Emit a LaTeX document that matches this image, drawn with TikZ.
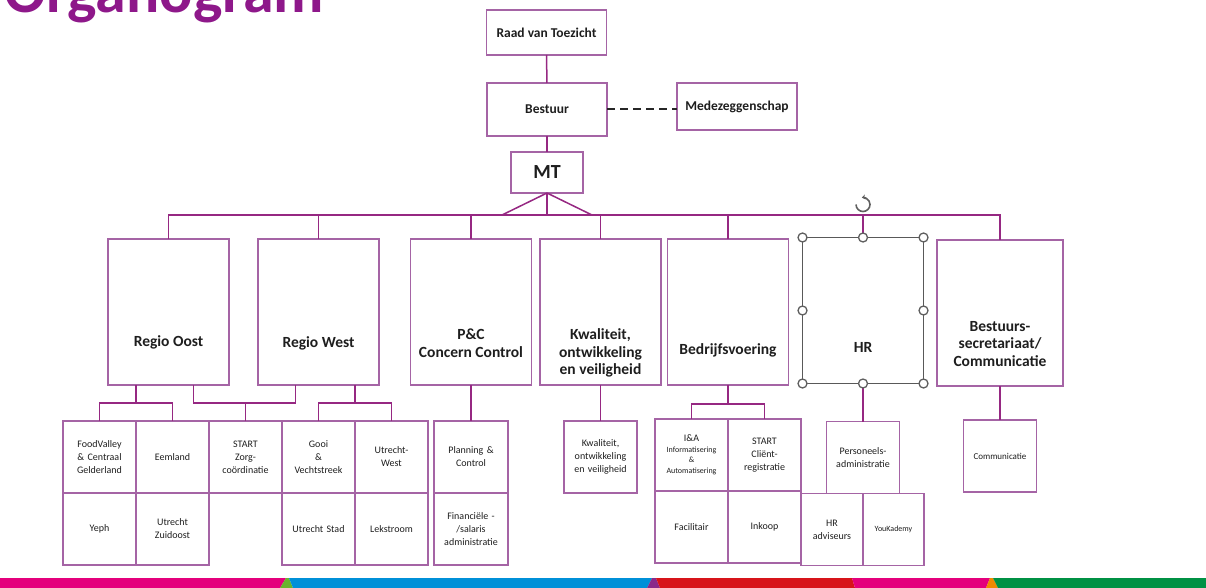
\documentclass[tikz,border=0pt]{standalone}
\usepackage{fontspec}
\setmainfont{Carlito}
\usepackage{xcolor}
\usepackage{tikz}
\usetikzlibrary{positioning, arrows.meta}

\definecolor{orgpurple}{RGB}{142,24,138}
\definecolor{boxpurple}{RGB}{165,100,165}
\definecolor{linepurple}{RGB}{150,40,130}
\definecolor{textgrey}{RGB}{30,30,30}
\definecolor{stripPink}{RGB}{228,0,124}
\definecolor{stripBlue}{RGB}{0,144,216}
\definecolor{stripRed}{RGB}{215,20,26}
\definecolor{stripGreen}{RGB}{0,145,68}
\definecolor{stripLime}{RGB}{106,180,45}
\definecolor{stripViolet}{RGB}{138,42,138}
\definecolor{stripOrange}{RGB}{240,138,0}

\tikzstyle{conn} = [linepurple, line width=1.5pt]
\tikzstyle{handle} = [draw=gray!75!black, fill=white, line width=1.3pt]

\begin{document}
\begin{tikzpicture}[x=1pt, y=-1pt,
    topbox/.style={rectangle, draw=boxpurple, line width=1.2pt, minimum width=120pt, minimum height=47pt, inner sep=2pt, outer sep=0pt, text=textgrey, font=\fontsize{13.5}{15}\selectfont\bfseries},
    unitbox/.style={rectangle, draw=boxpurple, line width=1.2pt, minimum width=121pt, minimum height=146pt, inner sep=0pt, outer sep=0pt},
    lbl/.style={align=center, text=textgrey, font=\fontsize{15.5}{17.5}\selectfont\bfseries},
    subbox/.style={rectangle, draw=boxpurple, line width=1.2pt, minimum width=73pt, minimum height=72pt, text width=68pt, align=center, inner sep=2pt, outer sep=0pt, text=textgrey, font=\fontsize{10}{13}\selectfont},
    dashline/.style={black!85, line width=2pt, dash pattern=on 8pt off 5pt}]

    \useasboundingbox (0,0) rectangle (1206,588);

    % Title (cut off at the top)
    \node[anchor=base west, inner sep=0pt, text=orgpurple, font=\fontsize{62}{62}\selectfont\bfseries] (title) at (4,13) {Organogram};

    % Top of the organisation
    \node[topbox, minimum height=45pt] (raad) at (546.5,32.5) {Raad van Toezicht};
    \node[topbox, minimum height=53pt] (bestuur) at (547,109.5) {Bestuur};
    \node[topbox] (mede) at (737,106.5) {Medezeggenschap};
    \node[topbox, minimum width=72pt, minimum height=41pt, font=\fontsize{20}{22}\selectfont\bfseries] (mt) at (547,172.5) {MT};
    \coordinate (bus) at (0,215);

    % Units
    \node[unitbox, label={[lbl, yshift=-30pt]center:Regio Oost}] (oost) at (168.5,312) {};
    \node[unitbox, label={[lbl, yshift=-31pt]center:Regio West}] (west) at (318.5,312) {};
    \node[unitbox, label={[lbl, yshift=-31pt]center:{P\&C\\Concern Control}}] (pc) at (471,312) {};
    \node[unitbox, label={[lbl, yshift=-41pt]center:{Kwaliteit,\\ontwikkeling\\en veiligheid}}] (kwal) at (600.5,312) {};
    \node[unitbox, label={[lbl, yshift=-38pt]center:Bedrijfsvoering}] (bedr) at (728,312) {};
    \node[unitbox, draw=gray!70!black, line width=1.5pt, label={[lbl, yshift=-37pt]center:HR}] (hr) at (863,310.5) {};
    \node[unitbox, minimum width=126pt, label={[lbl, yshift=-31pt]center:{Bestuurs-\\secretariaat/\\Communicatie}}] (bestcomm) at (1000,313) {};

    % Regio's
    \node[subbox] (foodvalley) at (99.5,457) {FoodValley\\\& Centraal\\Gelderland};
    \node[subbox, right=0pt of foodvalley] (eemland) {Eemland};
    \node[subbox, right=0pt of eemland] (startzorg) {START\\Zorg-\\coördinatie};
    \node[subbox, right=0pt of startzorg] (gooi) {Gooi\\\&\\Vechtstreek};
    \node[subbox, right=0pt of gooi] (utwest) {Utrecht-\\West};
    \node[subbox, below=0pt of foodvalley] (yeph) {Yeph};
    \node[subbox, below=0pt of eemland] (zuidoost) {Utrecht\\Zuidoost};
    \node[subbox, below=0pt of gooi] (utstad) {Utrecht Stad};
    \node[subbox, below=0pt of utwest] (lekstroom) {Lekstroom};

    % Staff departments
    \node[subbox, minimum width=74pt, below=36pt of pc] (planning) {Planning \&\\Control};
    \node[subbox, minimum width=74pt, below=0pt of planning] (financieel) {Financiële -\\/salaris\\administratie};
    \node[subbox, below=36pt of kwal] (kwalsub) {Kwaliteit,\\ontwikkeling\\en veiligheid};
    \node[subbox, below left=34pt and 0pt of bedr.south, font=\fontsize{8}{10.5}\selectfont] (ia) {{\fontsize{10}{13}\selectfont I\&A}\\Informatisering\\\&\\Automatisering};
    \node[subbox, right=0pt of ia] (clientreg) {START\\Cliënt-\\registratie};
    \node[subbox, below=0pt of ia] (facilitair) {Facilitair};
    \node[subbox, below=0pt of clientreg] (inkoop) {Inkoop};
    \node[subbox, below=38pt of hr] (persadmin) {Personeels-\\administratie};
    \node[subbox, minimum width=62pt, text width=58pt, below left=0pt and 0pt of persadmin.south] (hradv) {HR\\adviseurs};
    \node[subbox, minimum width=61pt, text width=57pt, right=0pt of hradv, font=\fontsize{8}{10}\selectfont] (youkademy) {YouKademy};
    \node[subbox, below=34pt of bestcomm, font=\fontsize{9}{11}\selectfont] (comm) {Communicatie};

    % Top connectors
    \draw[conn] (raad) -- (bestuur);
    \draw[conn] (bestuur) -- (mt);
    \draw[dashline] (bestuur.east) -- (bestuur.east -| mede.west);
    \draw[conn] (mt.south) -- (mt.south |- bus);
    \draw[conn] (mt.south) -- ++(-45,22);
    \draw[conn] (mt.south) -- ++(45,22);
    \draw[conn] (oost.north) -- (oost.north |- bus) -- (bestcomm.north |- bus) -- (bestcomm.north);
    \foreach \u in {west, pc, kwal, bedr, hr}
        \draw[conn] (\u.north) -- (\u.north |- bus);

    % Regio connectors
    \draw[conn] (oost.south -| foodvalley.east) -- ++(0,18) coordinate (oostbus);
    \draw[conn] (foodvalley.north) |- (oostbus) -| (eemland.north);
    \draw[conn] (oost.south) ++(25,0) -- ++(0,18) -| (startzorg.north);
    \draw[conn] (west.south) ++(-23,0) -- ++(0,18) -| (startzorg.north);
    \draw[conn] (west.south -| gooi.east) -- ++(0,18) coordinate (westbus);
    \draw[conn] (gooi.north) |- (westbus) -| (utwest.north);

    % Staff connectors
    \draw[conn] (pc) -- (planning);
    \draw[conn] (kwal) -- (kwalsub);
    \draw[conn] (bedr.south) -- ++(0,19) coordinate (bedrbus);
    \draw[conn] (ia.north) |- (bedrbus) -| (clientreg.north);
    \draw[conn] (hr) -- (persadmin);
    \draw[conn] (bestcomm) -- (comm);

    % Selection handles on HR
    \foreach \a in {north west, north, north east, west, east, south west, south, south east}
        \draw[handle] (hr.\a) circle[radius=4.5];
    \draw[gray!75!black, line width=1.6pt, -{Stealth[length=3.5pt, width=5pt]}] ([yshift=33pt]hr.north) ++(-7,0) arc[start angle=180, end angle=-100, radius=7];

    % Colour strip
    \fill[stripPink] (0,578) -- (286,578) -- (280,588) -- (0,588) -- cycle;
    \fill[stripLime] (280,588) -- (286,578) -- (289,578) -- (293,588) -- cycle;
    \fill[stripBlue] (289,578) -- (652,578) -- (647,588) -- (293,588) -- cycle;
    \fill[stripViolet] (647,588) -- (652,578) -- (656,578) -- (660,588) -- cycle;
    \fill[stripRed] (656,578) -- (852,578) -- (855,588) -- (660,588) -- cycle;
    \fill[stripPink] (852,578) -- (990,578) -- (986,588) -- (855,588) -- cycle;
    \fill[stripOrange] (986,588) -- (990,578) -- (993,578) -- (998,588) -- cycle;
    \fill[stripGreen] (993,578) -- (1206,578) -- (1206,588) -- (998,588) -- cycle;

\end{tikzpicture}
\end{document}
